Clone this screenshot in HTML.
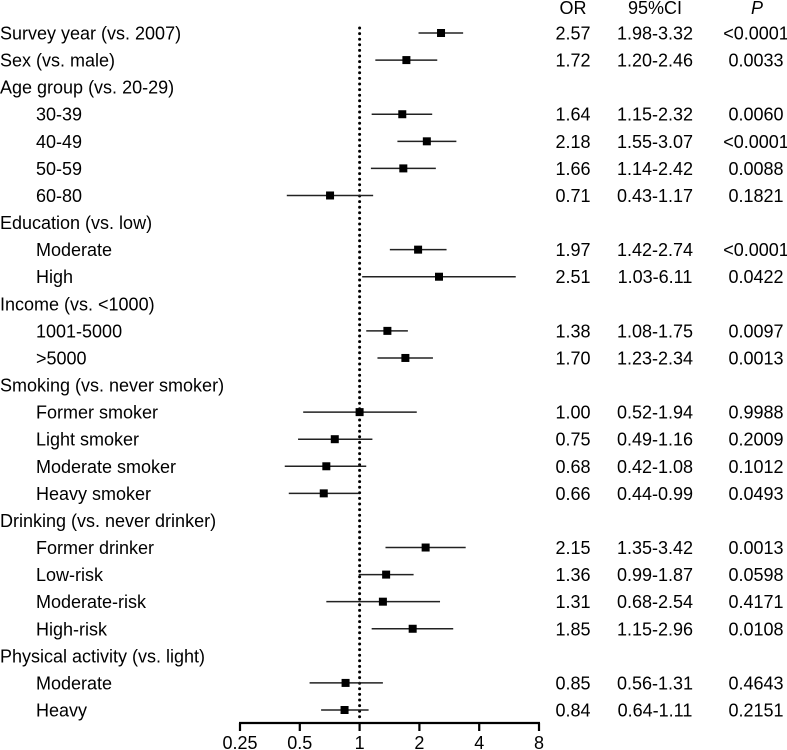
<!DOCTYPE html>
<html lang="en">
<head>
<meta charset="utf-8">
<title>Forest plot of odds ratios</title>
<style>
html,body{margin:0;padding:0;background:#fff;}
svg{display:block;}
text{font-family:"Liberation Sans",Arial,sans-serif;font-size:18px;fill:#000;}
</style>
</head>
<body>
<svg id="chart" width="787" height="750" viewBox="0 0 787 750" xmlns="http://www.w3.org/2000/svg"></svg>
<script>
const categories = ["Survey year (vs. 2007)","Sex (vs. male)","Age group (vs. 20-29)","30-39","40-49","50-59","60-80","Education (vs. low)","Moderate","High","Income (vs. <1000)","1001-5000",">5000","Smoking (vs. never smoker)","Former smoker","Light smoker","Moderate smoker","Heavy smoker","Drinking (vs. never drinker)","Former drinker","Low-risk","Moderate-risk","High-risk","Physical activity (vs. light)","Moderate","Heavy"];
const isSubgroup = [0,0,0,1,1,1,1,0,1,1,0,1,1,0,1,1,1,1,0,1,1,1,1,0,1,1];
const orValues = [2.57,1.72,null,1.64,2.18,1.66,0.71,null,1.97,2.51,null,1.38,1.70,null,1.00,0.75,0.68,0.66,null,2.15,1.36,1.31,1.85,null,0.85,0.84];
const ciLower = [1.98,1.20,null,1.15,1.55,1.14,0.43,null,1.42,1.03,null,1.08,1.23,null,0.52,0.49,0.42,0.44,null,1.35,0.99,0.68,1.15,null,0.56,0.64];
const ciUpper = [3.32,2.46,null,2.32,3.07,2.42,1.17,null,2.74,6.11,null,1.75,2.34,null,1.94,1.16,1.08,0.99,null,3.42,1.87,2.54,2.96,null,1.31,1.11];
const pLabels = ["<0.0001","0.0033","","0.0060","<0.0001","0.0088","0.1821","","<0.0001","0.0422","","0.0097","0.0013","","0.9988","0.2009","0.1012","0.0493","","0.0013","0.0598","0.4171","0.0108","","0.4643","0.2151"];
const tickValues = [0.25,0.5,1,2,4,8];
const referenceValue = 1;

const svg = document.getElementById('chart');
const NS = 'http://www.w3.org/2000/svg';
const xAt0 = 240, xAt8 = 539, rowTop = 33, rowStep = 27.08;
const axisY = 723;
function xScale(v){ return xAt0 + (Math.log2(v) - Math.log2(tickValues[0])) / (Math.log2(tickValues[tickValues.length-1]) - Math.log2(tickValues[0])) * (xAt8 - xAt0); }
function yScale(i){ return rowTop + i * rowStep; }
function make(tag, attrs, txt){
  const el = document.createElementNS(NS, tag);
  for (const k in attrs) el.setAttribute(k, attrs[k]);
  if (txt !== undefined) el.textContent = txt;
  svg.appendChild(el);
  return el;
}
let el;

// Reference line
el = make('line',{x1:xScale(referenceValue),x2:xScale(referenceValue),y1:28,y2:719,stroke:'#000','stroke-width':3,'stroke-dasharray':'0 5.6','stroke-linecap':'round'});



// Column headers
el = make('text',{x:573,y:14,'text-anchor':'middle'},'OR');


el = make('text',{x:655,y:14,'text-anchor':'middle'},'95%CI');


el = make('text',{x:757,y:14,'text-anchor':'middle','font-style':'italic'},'P');



// Rows
categories.forEach(function(name, i){
  const y = yScale(i);
  el = make('text',{x:isSubgroup[i] ? 36 : 0, y:y+6.5},name);
  
  
  if (orValues[i] === null) return;
  el = make('line',{x1:xScale(ciLower[i]),x2:xScale(ciUpper[i]),y1:y,y2:y,stroke:'#222','stroke-width':1.5});
  
  
  el = make('rect',{x:xScale(orValues[i])-4,y:y-4,width:8,height:8,fill:'#000'});
  
  
  el = make('text',{x:573,y:y+6.5,'text-anchor':'middle'},orValues[i].toFixed(2));
  
  
  el = make('text',{x:655,y:y+6.5,'text-anchor':'middle'},ciLower[i].toFixed(2)+'-'+ciUpper[i].toFixed(2));
  
  
  el = make('text',{x:756,y:y+6.5,'text-anchor':'middle'},pLabels[i]);
  
  
});

// X axis
el = make('line',{x1:xScale(tickValues[0])-1,x2:xScale(tickValues[tickValues.length-1])+1,y1:axisY,y2:axisY,stroke:'#000','stroke-width':2.2});


tickValues.forEach(function(t){
  el = make('line',{x1:xScale(t),x2:xScale(t),y1:axisY,y2:axisY+8,stroke:'#000','stroke-width':2.2});
  
  
  el = make('text',{x:xScale(t),y:749,'text-anchor':'middle'},String(t));
  
  
});
</script>
</body>
</html>
